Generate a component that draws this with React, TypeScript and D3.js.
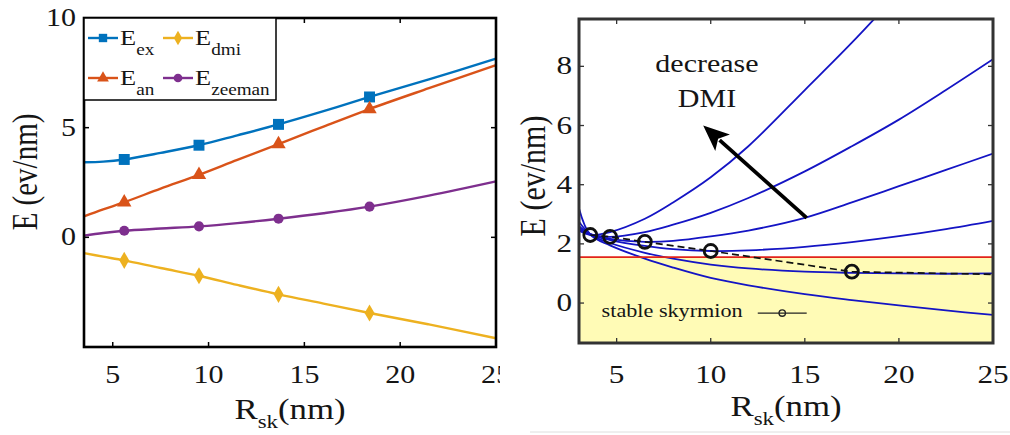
import { useRef, useEffect } from 'react'
import * as d3 from 'd3'

const W = 1010
const H = 435
const SX = 1.2 // the source figure is stretched sideways, text follows it
const FONT = "'Liberation Serif', 'DejaVu Serif', serif"

// left panel: energy terms vs skyrmion radius
const lineR = [3.5, 4.5, 5.6, 7.5, 9.5, 11.5, 13.65, 16, 18.4, 21.5, 25]
const eEx = [3.42, 3.45, 3.55, 3.85, 4.2, 4.65, 5.15, 5.75, 6.4, 7.2, 8.15]
const eAn = [0.95, 1.27, 1.6, 2.22, 2.85, 3.53, 4.25, 5.05, 5.85, 6.8, 7.85]
const eZee = [0.08, 0.2, 0.3, 0.4, 0.5, 0.65, 0.85, 1.1, 1.4, 1.9, 2.55]
const eDmi = [-0.72, -0.88, -1.05, -1.4, -1.75, -2.17, -2.6, -3.02, -3.45, -3.97, -4.6]
const markerR = [5.6, 9.5, 13.65, 18.4]
const exMarks = [3.55, 4.2, 5.15, 6.4]
const anMarks = [1.6, 2.85, 4.25, 5.85]
const zeeMarks = [0.3, 0.5, 0.85, 1.4]
const dmiMarks = [-1.05, -1.75, -2.6, -3.45]
const leftXTicks = [5, 10, 15, 20, 25]
const leftYTicks = [0, 5, 10]

// right panel: total energy for several DMI strengths
const rGrid = [3, 3.6, 4.65, 6.5, 8, 10, 12, 15, 17.5, 20, 22.5, 25]
const curve1 = [2.45, 2.3, 2.4, 2.85, 3.4, 4.25, 5.3, 7.2, 8.8, 10.5]
const curve2 = [2.5, 2.32, 2.24, 2.4, 2.65, 3.05, 3.55, 4.45, 5.3, 6.2, 7.2, 8.24]
const curve3 = [2.55, 2.33, 2.17, 2.07, 2.1, 2.25, 2.45, 2.88, 3.4, 3.95, 4.5, 5.05]
const curve4 = [2.6, 2.33, 2.13, 1.93, 1.82, 1.76, 1.78, 1.9, 2.06, 2.26, 2.5, 2.78]
const curve5 = [2.75, 2.32, 2.03, 1.7, 1.5, 1.3, 1.17, 1.06, 1.02, 1.0, 0.99, 1.0]
const curve6 = [3.2, 2.31, 1.95, 1.5, 1.2, 0.85, 0.6, 0.3, 0.1, -0.08, -0.25, -0.4]
const minR = [3.6, 4.65, 6.5, 10, 17.5, 25]
const minE = [2.3, 2.24, 2.07, 1.76, 1.06, 0.97]
const stableLimit = 1.55
const rightXTicks = [5, 10, 15, 20, 25]
const rightYTicks = [0, 2, 4, 6, 8]

const COLORS = { ex: '#0072BD', an: '#D95319', dmi: '#EDB120', zee: '#7E2F8E' }

function stretched(parent, x, y, size, anchor = 'middle', rotate = 0) {
  return parent
    .append('text')
    .attr('transform', `translate(${x},${y}) scale(${SX},1)${rotate ? ` rotate(${rotate})` : ''}`)
    .style('font-family', FONT)
    .attr('font-size', size)
    .attr('text-anchor', anchor)
    .attr('fill', '#151515')
}

function withSub(t, main, sub, subSize, drop) {
  t.append('tspan').text(main)
  t.append('tspan').attr('font-size', subSize).attr('dy', drop).text(sub)
  return t
}

export default function App() {
  const svgRef = useRef(null)

  useEffect(() => {
    const svg = d3.select(svgRef.current)
    svg.selectAll('*').remove()

    const line = (xs, ys, sx, sy) =>
      d3
        .line()
        .x((d) => sx(d[0]))
        .y((d) => sy(d[1]))
        .curve(d3.curveCatmullRom.alpha(0.5))(xs.map((r, i) => [r, ys[i]]).filter((d) => d[1] !== undefined))

    // ---------- left panel ----------
    const lx = d3.scaleLinear().domain([3.5, 25]).range([84, 496])
    const ly = d3.scaleLinear().domain([-5, 10]).range([347, 18])
    const L = svg.append('g')

    svg
      .append('clipPath')
      .attr('id', 'leftClip')
      .append('rect')
      .attr('x', 0)
      .attr('y', 0)
      .attr('width', 500)
      .attr('height', H)

    const series = [
      { key: 'ex', vals: eEx, marks: exMarks, sym: d3.symbolSquare, size: 120 },
      { key: 'an', vals: eAn, marks: anMarks, sym: d3.symbolTriangle, size: 90 },
      { key: 'zee', vals: eZee, marks: zeeMarks, sym: d3.symbolCircle, size: 80 },
      { key: 'dmi', vals: eDmi, marks: dmiMarks, sym: d3.symbolDiamond, size: 85 },
    ]

    series.forEach((s) => {
      L.append('path')
        .attr('d', line(lineR, s.vals, lx, ly))
        .attr('fill', 'none')
        .attr('stroke', COLORS[s.key])
        .attr('stroke-width', 2.4)
      L.selectAll(null)
        .data(markerR)
        .join('path')
        .attr('transform', (r, i) => `translate(${lx(r)},${ly(s.marks[i])})`)
        .attr('d', d3.symbol(s.sym, s.size)())
        .attr('fill', COLORS[s.key])
    })

    // ticks, inward on all four sides
    const tk = 5
    leftXTicks.slice(0, -1).forEach((v) => {
      L.append('line').attr('x1', lx(v)).attr('x2', lx(v)).attr('y1', 347).attr('y2', 347 - tk).attr('stroke', '#000').attr('stroke-width', 1.5)
      L.append('line').attr('x1', lx(v)).attr('x2', lx(v)).attr('y1', 18).attr('y2', 18 + tk).attr('stroke', '#000').attr('stroke-width', 1.5)
    })
    leftYTicks.slice(0, -1).forEach((v) => {
      L.append('line').attr('x1', 84).attr('x2', 84 + tk).attr('y1', ly(v)).attr('y2', ly(v)).attr('stroke', '#000').attr('stroke-width', 1.5)
      L.append('line').attr('x1', 496).attr('x2', 496 - tk).attr('y1', ly(v)).attr('y2', ly(v)).attr('stroke', '#000').attr('stroke-width', 1.5)
    })

    L.append('rect')
      .attr('x', 84)
      .attr('y', 18)
      .attr('width', 412)
      .attr('height', 329)
      .attr('fill', 'none')
      .attr('stroke', '#000')
      .attr('stroke-width', 2.6)

    // legend
    const lg = L.append('g')
    lg.append('rect').attr('x', 84).attr('y', 18).attr('width', 192).attr('height', 82).attr('fill', '#fff').attr('stroke', '#000').attr('stroke-width', 1.5)
    const legendItems = [
      { key: 'ex', sub: 'ex', x: 88, y: 38, sym: d3.symbolSquare, size: 70 },
      { key: 'dmi', sub: 'dmi', x: 163, y: 38, sym: d3.symbolDiamond, size: 60 },
      { key: 'an', sub: 'an', x: 88, y: 78, sym: d3.symbolTriangle, size: 60 },
      { key: 'zee', sub: 'zeeman', x: 163, y: 78, sym: d3.symbolCircle, size: 60 },
    ]
    legendItems.forEach((it) => {
      lg.append('line').attr('x1', it.x).attr('x2', it.x + 30).attr('y1', it.y).attr('y2', it.y).attr('stroke', COLORS[it.key]).attr('stroke-width', 2.4)
      lg.append('path').attr('transform', `translate(${it.x + 15},${it.y})`).attr('d', d3.symbol(it.sym, it.size)()).attr('fill', COLORS[it.key])
      withSub(stretched(lg, it.x + 32, it.y + 7, 22, 'start'), 'E', it.sub, 16, 10)
    })

    // tick labels
    const xl = L.append('g').attr('clip-path', 'url(#leftClip)')
    leftXTicks.forEach((v) => stretched(xl, lx(v), 383, 25).text(v))
    leftYTicks.forEach((v) => stretched(L, 76, ly(v) + 8, 25, 'end').text(v))

    // axis titles
    stretched(L, 37, 172, 29, 'middle', -90).text('E (ev/nm)')
    withSub(stretched(L, 290, 419, 29), 'R', 'sk', 19, 9).append('tspan').attr('dy', -9).text('(nm)')

    // ---------- right panel ----------
    const rx = d3.scaleLinear().domain([3, 25]).range([579, 993])
    const ry = d3.scaleLinear().domain([-1.35, 9.6]).range([343, 19])
    const R = svg.append('g')

    svg
      .append('clipPath')
      .attr('id', 'rightClip')
      .append('rect')
      .attr('x', 579)
      .attr('y', 19)
      .attr('width', 414)
      .attr('height', 324)
    const plot = R.append('g').attr('clip-path', 'url(#rightClip)')

    plot
      .append('rect')
      .attr('x', rx(3))
      .attr('y', ry(stableLimit))
      .attr('width', rx(25) - rx(3))
      .attr('height', ry(-1.35) - ry(stableLimit))
      .attr('fill', '#FFFBB6')

    const curves = [curve1, curve2, curve3, curve4, curve5, curve6]
    curves.forEach((c) => {
      plot
        .append('path')
        .attr('d', line(rGrid, c, rx, ry))
        .attr('fill', 'none')
        .attr('stroke', '#1414C4')
        .attr('stroke-width', 1.8)
    })

    plot
      .append('line')
      .attr('x1', rx(3))
      .attr('x2', rx(25))
      .attr('y1', ry(stableLimit))
      .attr('y2', ry(stableLimit))
      .attr('stroke', '#E2231A')
      .attr('stroke-width', 1.7)

    plot
      .append('path')
      .attr('d', d3.line().x((d) => rx(d[0])).y((d) => ry(d[1]))(minR.map((r, i) => [r, minE[i]])))
      .attr('fill', 'none')
      .attr('stroke', '#111')
      .attr('stroke-width', 1.7)
      .attr('stroke-dasharray', '7,4')

    plot
      .selectAll(null)
      .data(minR.slice(0, -1))
      .join('circle')
      .attr('cx', (r) => rx(r))
      .attr('cy', (r, i) => ry(minE[i]))
      .attr('r', 6.5)
      .attr('fill', 'none')
      .attr('stroke', '#111')
      .attr('stroke-width', 2.8)

    // arrow "decrease DMI"
    const a0 = [rx(15.1), ry(2.88)]
    const a1 = [rx(9.6), ry(6.0)]
    const dx = a1[0] - a0[0]
    const dy = a1[1] - a0[1]
    const len = Math.hypot(dx, dy)
    const ux = dx / len
    const uy = dy / len
    const head = 26
    const half = 11
    const base = [a1[0] - ux * head, a1[1] - uy * head]
    R.append('line')
      .attr('x1', a0[0])
      .attr('y1', a0[1])
      .attr('x2', base[0] + ux * 4)
      .attr('y2', base[1] + uy * 4)
      .attr('stroke', '#000')
      .attr('stroke-width', 3.8)
    R.append('path')
      .attr(
        'd',
        `M${a1[0]},${a1[1]}L${base[0] - uy * half},${base[1] + ux * half}L${base[0] + ux * 6},${base[1] + uy * 6}L${base[0] + uy * half},${base[1] - ux * half}Z`
      )
      .attr('fill', '#000')

    stretched(R, rx(9.8), ry(7.8), 25).text('decrease')
    stretched(R, rx(9.8), ry(6.64), 25).text('DMI')

    // legend entry inside the yellow area
    stretched(R, rx(4.2), ry(-0.47), 18.5, 'start').text('stable skyrmion')
    R.append('line').attr('x1', rx(12.5)).attr('x2', rx(15.1)).attr('y1', ry(-0.34)).attr('y2', ry(-0.34)).attr('stroke', '#222').attr('stroke-width', 1.2)
    R.append('circle').attr('cx', rx(13.8)).attr('cy', ry(-0.34)).attr('r', 3.2).attr('fill', 'none').attr('stroke', '#222').attr('stroke-width', 1.4)

    // ticks
    rightXTicks.slice(0, -1).forEach((v) => {
      R.append('line').attr('x1', rx(v)).attr('x2', rx(v)).attr('y1', 343).attr('y2', 343 - tk).attr('stroke', '#333').attr('stroke-width', 1.3)
      R.append('line').attr('x1', rx(v)).attr('x2', rx(v)).attr('y1', 19).attr('y2', 19 + tk).attr('stroke', '#333').attr('stroke-width', 1.3)
    })
    rightYTicks.forEach((v) => {
      R.append('line').attr('x1', 579).attr('x2', 579 + tk).attr('y1', ry(v)).attr('y2', ry(v)).attr('stroke', '#333').attr('stroke-width', 1.3)
      R.append('line').attr('x1', 993).attr('x2', 993 - tk).attr('y1', ry(v)).attr('y2', ry(v)).attr('stroke', '#333').attr('stroke-width', 1.3)
    })

    R.append('rect')
      .attr('x', 579)
      .attr('y', 19)
      .attr('width', 414)
      .attr('height', 324)
      .attr('fill', 'none')
      .attr('stroke', '#333')
      .attr('stroke-width', 3)

    rightXTicks.forEach((v) => stretched(R, rx(v), 383, 26).text(v))
    rightYTicks.forEach((v) => stretched(R, 572, ry(v) + 8, 26, 'end').text(v))

    stretched(R, 545, 176, 30, 'middle', -90).text('E (ev/nm)')
    withSub(stretched(R, 786, 416, 29), 'R', 'sk', 19, 9).append('tspan').attr('dy', -9).text('(nm)')

    // faint page rule at the bottom
    svg.append('line').attr('x1', 530).attr('x2', W).attr('y1', 432).attr('y2', 432).attr('stroke', '#dedede').attr('stroke-width', 1)
  }, [])

  return (
    <svg
      ref={svgRef}
      width={W}
      height={H}
      style={{ position: 'absolute', left: 0, top: 0, background: '#fff' }}
    />
  )
}
